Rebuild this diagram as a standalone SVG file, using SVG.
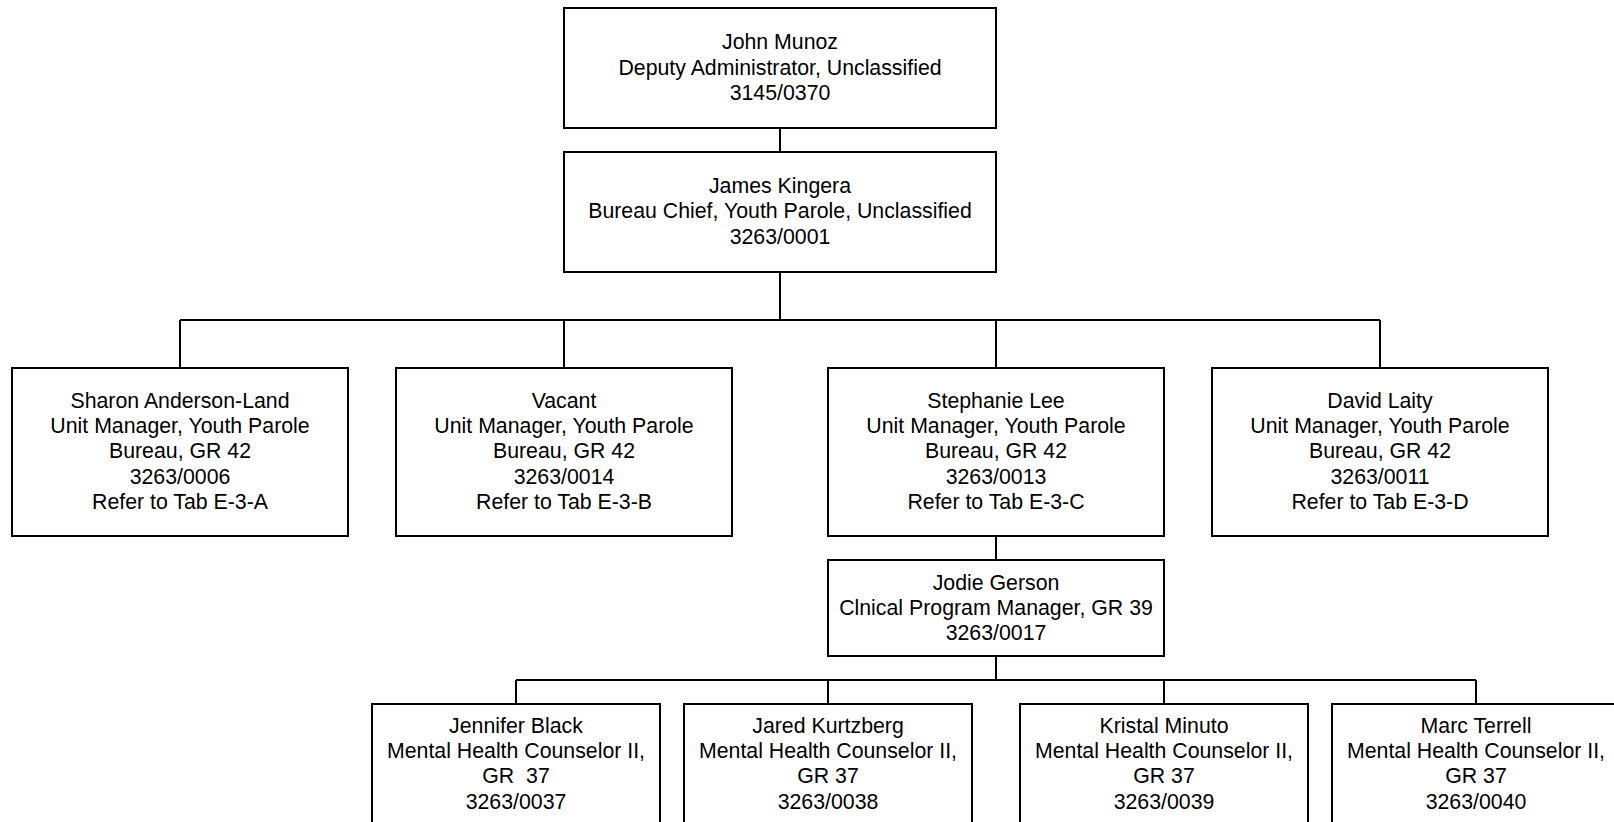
<svg xmlns="http://www.w3.org/2000/svg" width="1614" height="822" viewBox="0 0 1614 822">
<style>
.box{fill:#fff;stroke:#000;stroke-width:2}
.ln{fill:none;stroke:#000;stroke-width:2}
text{font-family:"Liberation Sans",Arial,sans-serif;font-size:21.3px;fill:#000;text-anchor:middle}
</style>
<rect width="1614" height="822" fill="#fff"/>
<g id="connectors">
<path class="ln" d="M780 128V152M780 272V320M180 320H1380M180 320V368M564 320V368M996 320V368M1380 320V368M996 536V560M996 656V680M516 680H1476M516 680V704M828 680V704M1164 680V704M1476 680V704"/>
</g>
<g id="n-munoz">
<rect class="box" x="564" y="8" width="432" height="120"/>
<text x="780" y="49">John Munoz</text>
<text x="780" y="75">Deputy Administrator, Unclassified</text>
<text x="780" y="100">3145/0370</text>
</g>
<g id="n-kingera">
<rect class="box" x="564" y="152" width="432" height="120"/>
<text x="780" y="193">James Kingera</text>
<text x="780" y="218">Bureau Chief, Youth Parole, Unclassified</text>
<text x="780" y="244">3263/0001</text>
</g>
<g id="n-anderson">
<rect class="box" x="12" y="368" width="336" height="168"/>
<text x="180" y="408">Sharon Anderson-Land</text>
<text x="180" y="433">Unit Manager, Youth Parole</text>
<text x="180" y="458">Bureau, GR 42</text>
<text x="180" y="484">3263/0006</text>
<text x="180" y="509">Refer to Tab E-3-A</text>
</g>
<g id="n-vacant">
<rect class="box" x="396" y="368" width="336" height="168"/>
<text x="564" y="408">Vacant</text>
<text x="564" y="433">Unit Manager, Youth Parole</text>
<text x="564" y="458">Bureau, GR 42</text>
<text x="564" y="484">3263/0014</text>
<text x="564" y="509">Refer to Tab E-3-B</text>
</g>
<g id="n-lee">
<rect class="box" x="828" y="368" width="336" height="168"/>
<text x="996" y="408">Stephanie Lee</text>
<text x="996" y="433">Unit Manager, Youth Parole</text>
<text x="996" y="458">Bureau, GR 42</text>
<text x="996" y="484">3263/0013</text>
<text x="996" y="509">Refer to Tab E-3-C</text>
</g>
<g id="n-laity">
<rect class="box" x="1212" y="368" width="336" height="168"/>
<text x="1380" y="408">David Laity</text>
<text x="1380" y="433">Unit Manager, Youth Parole</text>
<text x="1380" y="458">Bureau, GR 42</text>
<text x="1380" y="484">3263/0011</text>
<text x="1380" y="509">Refer to Tab E-3-D</text>
</g>
<g id="n-gerson">
<rect class="box" x="828" y="560" width="336" height="96"/>
<text x="996" y="590">Jodie Gerson</text>
<text x="996" y="615">Clnical Program Manager, GR 39</text>
<text x="996" y="640">3263/0017</text>
</g>
<g id="n-black">
<rect class="box" x="372" y="704" width="288" height="140"/>
<text x="516" y="733">Jennifer Black</text>
<text x="516" y="758">Mental Health Counselor II,</text>
<text x="516" y="783" xml:space="preserve">GR  37</text>
<text x="516" y="809">3263/0037</text>
</g>
<g id="n-kurtzberg">
<rect class="box" x="684" y="704" width="288" height="140"/>
<text x="828" y="733">Jared Kurtzberg</text>
<text x="828" y="758">Mental Health Counselor II,</text>
<text x="828" y="783">GR 37</text>
<text x="828" y="809">3263/0038</text>
</g>
<g id="n-minuto">
<rect class="box" x="1020" y="704" width="288" height="140"/>
<text x="1164" y="733">Kristal Minuto</text>
<text x="1164" y="758">Mental Health Counselor II,</text>
<text x="1164" y="783">GR 37</text>
<text x="1164" y="809">3263/0039</text>
</g>
<g id="n-terrell">
<rect class="box" x="1332" y="704" width="288" height="140"/>
<text x="1476" y="733">Marc Terrell</text>
<text x="1476" y="758">Mental Health Counselor II,</text>
<text x="1476" y="783">GR 37</text>
<text x="1476" y="809">3263/0040</text>
</g>
</svg>
